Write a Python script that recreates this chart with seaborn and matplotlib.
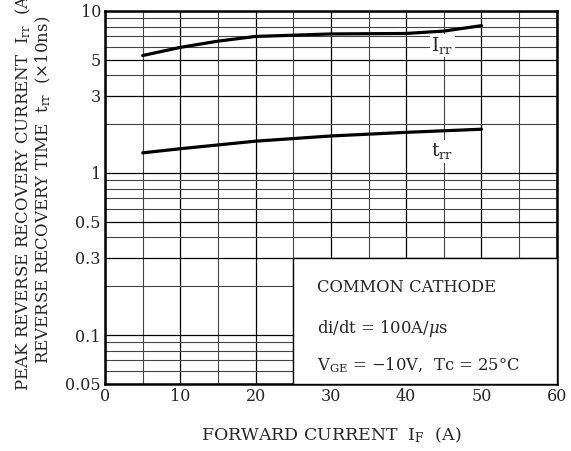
import matplotlib
matplotlib.use("Agg")
import matplotlib.pyplot as plt
import matplotlib.ticker as mticker
from matplotlib.patches import Rectangle
import seaborn as sns
import pandas as pd

# forward current (A) and read-off values
IF_IRR = [5, 10, 15, 20, 30, 40, 45, 50]
IRR = [5.3, 5.95, 6.5, 6.95, 7.2, 7.25, 7.5, 8.1]      # A
IF_TRR = [5, 10, 20, 30, 40, 50]
TRR = [1.33, 1.41, 1.57, 1.69, 1.78, 1.86]            # x10ns

Y_TICKS = [0.05, 0.1, 0.3, 0.5, 1, 3, 5, 10]
Y_TICK_LABELS = ["0.05", "0.1", "0.3", "0.5", "1", "3", "5", "10"]
Y_GRID = [0.06, 0.07, 0.08, 0.09, 0.2, 0.3, 0.4, 0.5, 0.6, 0.7, 0.8, 0.9,
          2, 3, 4, 5, 6, 7, 8, 9]
X_TICKS = [0, 10, 20, 30, 40, 50, 60]
X_GRID = [5, 15, 25, 35, 45, 55]

sns.set_style("white")
plt.rcParams["font.family"] = ["DejaVu Serif"]
plt.rcParams["mathtext.fontset"] = "dejavuserif"

fig = plt.figure(figsize=(5.71, 4.51), dpi=100)
ax = fig.add_axes([0.184, 0.149, 0.791, 0.827])

df_irr = pd.DataFrame({"IF": IF_IRR, "val": IRR})
df_trr = pd.DataFrame({"IF": IF_TRR, "val": TRR})
sns.lineplot(data=df_irr, x="IF", y="val", ax=ax, color="black", linewidth=2.3, zorder=5)
sns.lineplot(data=df_trr, x="IF", y="val", ax=ax, color="black", linewidth=2.3, zorder=5)

ax.set_yscale("log")
ax.set_xlim(0, 60)
ax.set_ylim(0.05, 10)

ax.yaxis.set_major_locator(mticker.FixedLocator(Y_TICKS))
ax.yaxis.set_major_formatter(mticker.FixedFormatter(Y_TICK_LABELS))
ax.yaxis.set_minor_locator(mticker.FixedLocator(Y_GRID))
ax.yaxis.set_minor_formatter(mticker.NullFormatter())
ax.xaxis.set_major_locator(mticker.FixedLocator(X_TICKS))
ax.xaxis.set_minor_locator(mticker.FixedLocator(X_GRID))

ax.grid(which="major", color="black", linewidth=0.9)
ax.grid(which="minor", color="#444444", linewidth=0.8)
ax.set_axisbelow(True)
ax.tick_params(which="both", length=0, labelsize=11.5, pad=3)
for s in ax.spines.values():
    s.set_linewidth(1.8)
    s.set_color("black")

ax.set_xlabel("FORWARD CURRENT  I$_{\\rm F}$  (A)", fontsize=12.5, labelpad=15)
ax.set_ylabel("")

fig.text(0.058, 1 - 190 / 451,
         "PEAK REVERSE RECOVERY CURRENT  I$_{\\rm rr}$  (A)\n"
         "REVERSE RECOVERY TIME  t$_{\\rm rr}$  (×10ns)",
         rotation=90, ha="center", va="center", multialignment="center",
         fontsize=12, linespacing=1.05)

# condition box
ax.add_patch(Rectangle((25, 0.05), 35, 0.25, facecolor="white", edgecolor="black",
                       linewidth=1.0, zorder=3))
ax.text(28.2, 0.195, "COMMON CATHODE", fontsize=11.8, va="center", zorder=4)
ax.text(28.2, 0.110, "di/dt = 100A/$\\mu$s", fontsize=11.8, va="center", zorder=4)
ax.text(28.2, 0.065, "V$_{\\rm GE}$ = −10V,  Tc = 25°C", fontsize=11.8, va="center", zorder=4)

# curve labels
ax.text(44.8, 6.1, "I$_{\\rm rr}$", fontsize=13.5, ha="center", va="center", zorder=6,
        bbox=dict(facecolor="white", edgecolor="none", pad=1.0))
ax.text(44.8, 1.36, "t$_{\\rm rr}$", fontsize=13.5, ha="center", va="center", zorder=6,
        bbox=dict(facecolor="white", edgecolor="none", pad=1.0))

fig.savefig("out.png", dpi=100)
